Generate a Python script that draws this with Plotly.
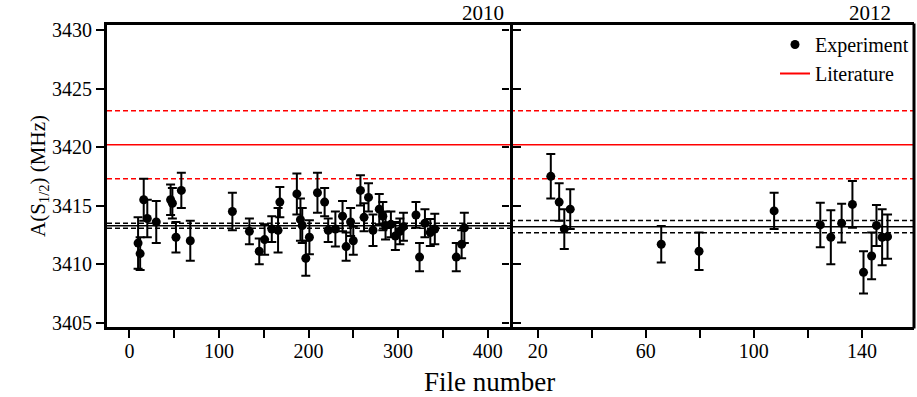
import plotly.graph_objects as go

# ---------------- data ----------------
# 2010 run (left panel)
file_2010 = [9.7, 12, 16, 20, 30, 46, 48, 52, 58, 68,
             115, 134, 145, 151, 159, 166, 168, 187, 191, 193,
             197, 201, 210, 218, 222, 230, 238, 242, 247, 250,
             258, 262, 267, 272, 279, 283, 286, 292, 297, 302,
             306, 320, 324, 330, 336, 341, 365, 371, 374]
a_2010 = [3411.8, 3410.9, 3415.5, 3413.9, 3413.6, 3415.5, 3415.2, 3412.3, 3416.3, 3412.0,
          3414.5, 3412.8, 3411.1, 3412.1, 3413.0, 3412.9, 3415.3, 3416.0, 3413.8, 3413.3,
          3410.5, 3412.3, 3416.1, 3415.3, 3412.9, 3413.0, 3414.1, 3411.5, 3413.6, 3412.0,
          3416.3, 3414.0, 3415.7, 3412.9, 3414.7, 3414.1, 3413.3, 3413.4, 3412.4, 3412.8,
          3413.2, 3414.2, 3410.6, 3413.5, 3412.7, 3413.0, 3410.6, 3411.7, 3413.1]
err_2010 = [2.2, 1.4, 1.8, 1.6, 1.8, 1.3, 1.3, 1.3, 1.5, 1.7,
            1.6, 1.1, 1.1, 1.3, 1.1, 1.9, 1.3, 1.75, 1.8, 1.5,
            1.5, 1.45, 1.7, 1.2, 1.0, 1.5, 1.3, 1.2, 1.2, 1.2,
            1.3, 1.2, 1.2, 1.35, 1.3, 1.2, 1.2, 1.1, 1.2, 1.1,
            1.2, 1.1, 1.2, 1.2, 1.15, 1.3, 1.2, 1.2, 1.3]

# 2012 run (right panel)
file_2012 = [24.8, 27.9, 29.8, 32, 65.7, 79.7, 107.5, 124.6, 128.5, 132.5,
             136.5, 140.6, 143.6, 145.4, 147.5, 149.5]
a_2012 = [3417.5, 3415.3, 3413.0, 3414.7, 3411.7, 3411.1, 3414.55, 3413.35, 3412.3, 3413.5,
          3415.1, 3409.3, 3410.7, 3413.3, 3412.3, 3412.35]
err_2012 = [1.9, 1.6, 1.7, 1.7, 1.55, 1.6, 1.55, 1.9, 2.3, 1.65,
            2.0, 1.8, 2.0, 1.75, 2.4, 1.9]

# weighted means and literature value
mean_2010, mean_err_2010 = 3413.28, 0.22
mean_2012, mean_err_2012 = 3413.2, 0.52
lit_value, lit_err = 3420.2, 2.9

x_ticks_2010 = [0, 100, 200, 300, 400]
x_ticks_2012 = [20, 60, 100, 140]
y_ticks = [3405, 3410, 3415, 3420, 3425, 3430]

# ---------------- figure ----------------
FONT = "Liberation Serif, Times New Roman, serif"
fig = go.Figure()

err_style = dict(type="data", color="black", thickness=2, width=4.5)

fig.add_trace(go.Scatter(
    x=file_2010, y=a_2010, mode="markers", name="Experiment",
    marker=dict(color="black", size=9),
    error_y=dict(array=err_2010, **err_style),
    xaxis="x", yaxis="y", showlegend=True))
fig.add_trace(go.Scatter(
    x=file_2012, y=a_2012, mode="markers", name="Experiment",
    marker=dict(color="black", size=9),
    error_y=dict(array=err_2012, **err_style),
    xaxis="x2", yaxis="y2", showlegend=False))
fig.add_trace(go.Scatter(
    x=[None], y=[None], mode="lines", name="Literature",
    line=dict(color="red", width=2), xaxis="x2", yaxis="y2"))

shapes = []
DASH = "5px,3px"
for xr, yr, m, e in (("x domain", "y", mean_2010, mean_err_2010),
                     ("x2 domain", "y2", mean_2012, mean_err_2012)):
    shapes.append(dict(type="line", xref=xr, yref=yr, x0=0, x1=1, y0=lit_value, y1=lit_value,
                       line=dict(color="red", width=1.5), layer="below"))
    for v in (lit_value + lit_err, lit_value - lit_err):
        shapes.append(dict(type="line", xref=xr, yref=yr, x0=0, x1=1, y0=v, y1=v,
                           line=dict(color="red", width=1.5, dash=DASH), layer="below"))
    shapes.append(dict(type="line", xref=xr, yref=yr, x0=0, x1=1, y0=m, y1=m,
                       line=dict(color="black", width=1.5), layer="below"))
    for v in (m + e, m - e):
        shapes.append(dict(type="line", xref=xr, yref=yr, x0=0, x1=1, y0=v, y1=v,
                           line=dict(color="black", width=1.5, dash=DASH), layer="below"))
# right-hand frame edge of the 2012 panel
shapes.append(dict(type="line", xref="x2 domain", yref="y2 domain", x0=1, x1=1, y0=-0.005, y1=1.005,
                   line=dict(color="black", width=3), layer="above"))

axis_common = dict(showline=True, linewidth=3, linecolor="black", showgrid=False,
                   zeroline=False, ticks="outside", tickwidth=2, tickcolor="black",
                   tickfont=dict(family=FONT, size=20, color="black"))

split = 0.4994
fig.update_layout(
    width=917, height=397,
    margin=dict(l=107, r=3, t=25, b=70),
    paper_bgcolor="white", plot_bgcolor="white",
    font=dict(family=FONT, color="black"),
    shapes=shapes,
    xaxis=dict(domain=[0, split], range=[-25, 425], anchor="y",
               tickvals=x_ticks_2010, ticklen=8, ticklabelstandoff=-4,
               minor=dict(dtick=50, tick0=0, ticks="outside", ticklen=8, tickwidth=2,
                          tickcolor="black", showgrid=False),
               mirror=True, **axis_common),
    xaxis2=dict(domain=[split, 1], range=[9.7, 159.3], anchor="y2",
                tickvals=x_ticks_2012, ticklen=8, ticklabelstandoff=-4,
                minor=dict(dtick=20, tick0=0, ticks="outside", ticklen=8, tickwidth=2,
                           tickcolor="black", showgrid=False),
                mirror=True, **axis_common),
    yaxis=dict(domain=[0, 1], range=[3404.63, 3430.43], anchor="x",
               tickvals=y_ticks, ticklen=8, mirror="ticks",
               title=dict(text="A(S<sub>1/2</sub>) (MHz)", font=dict(family=FONT, size=21),
                          standoff=0),
               **axis_common),
    yaxis2=dict(domain=[0, 1], matches="y", anchor="x2", tickvals=y_ticks,
                ticklen=7, showticklabels=False, showline=False, showgrid=False,
                zeroline=False, ticks="outside", tickwidth=2, tickcolor="black"),
    legend=dict(x=1.0, y=1.0, xanchor="right", yanchor="top",
                bgcolor="rgba(0,0,0,0)", font=dict(family=FONT, size=20),
                tracegroupgap=0, itemwidth=30),
    annotations=[
        dict(text="2010", xref="x domain", yref="paper", x=0.99, y=1, yshift=12,
             xanchor="right", yanchor="middle", showarrow=False,
             font=dict(family=FONT, size=21)),
        dict(text="2012", xref="x2 domain", yref="paper", x=0.948, y=1, yshift=12,
             xanchor="right", yanchor="middle", showarrow=False,
             font=dict(family=FONT, size=21)),
        dict(text="File number", xref="paper", yref="paper", x=0.474, y=0, yshift=-55,
             xanchor="center", yanchor="middle", showarrow=False,
             font=dict(family=FONT, size=27)),
    ],
)

fig.write_html("out.html")
